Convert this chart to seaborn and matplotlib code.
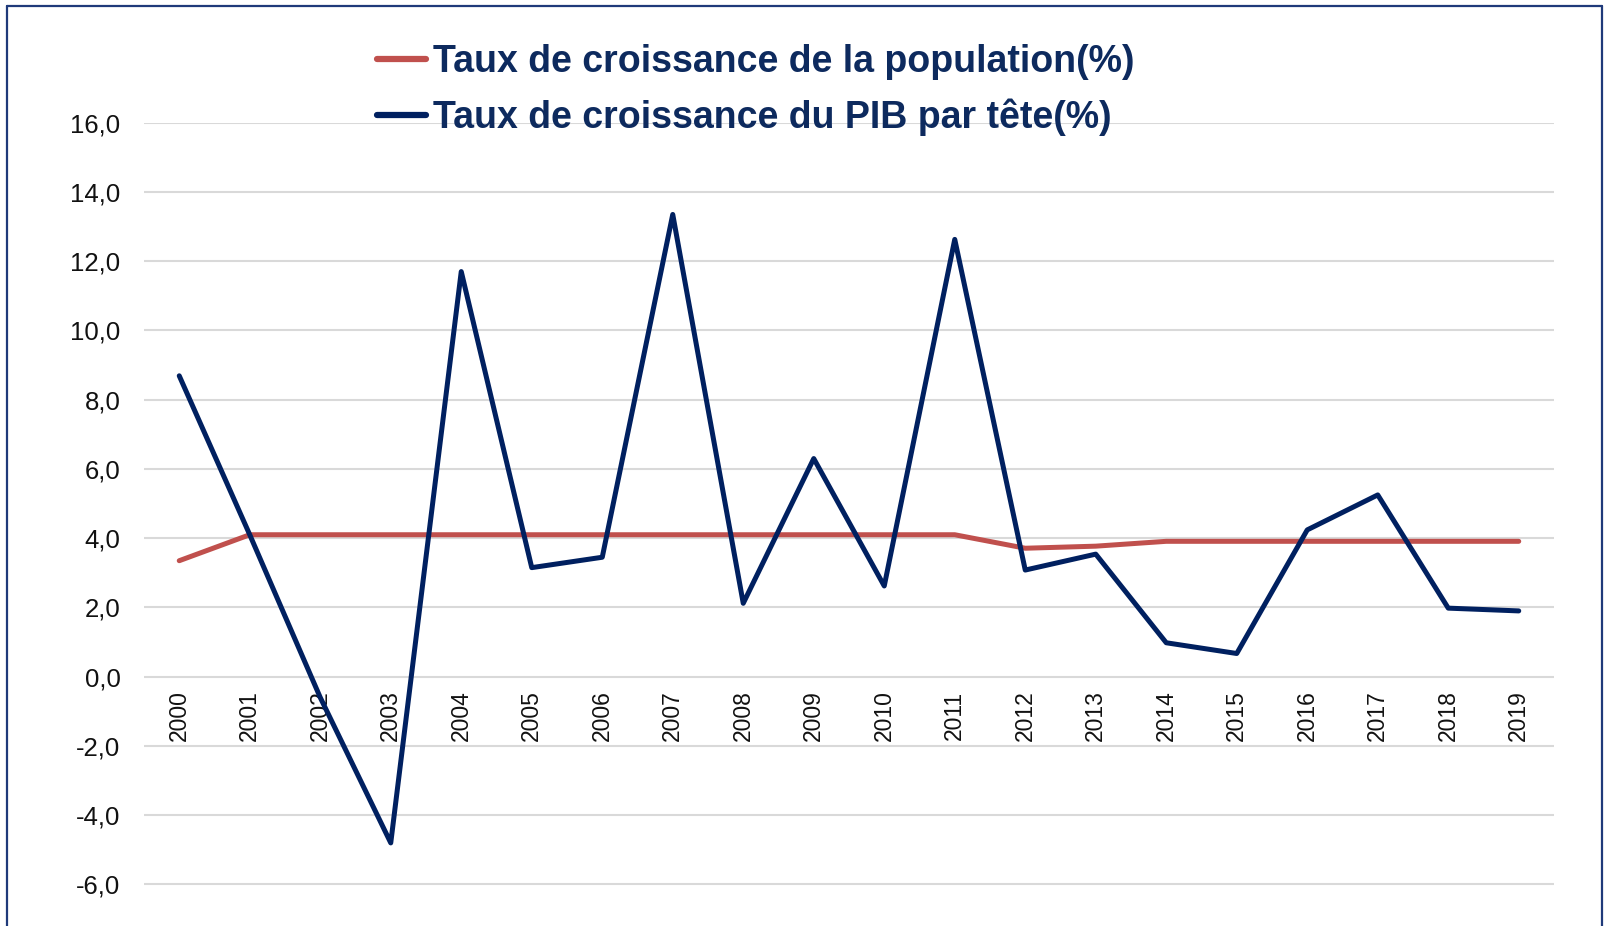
import numpy as np
import pandas as pd
import seaborn as sns
import matplotlib.pyplot as plt
from matplotlib.lines import Line2D
from matplotlib.ticker import FuncFormatter

# data
years = [str(y) for y in range(2000, 2020)]
pop_growth = [3.35, 4.1, 4.1, 4.1, 4.1, 4.1, 4.1, 4.1, 4.1, 4.1,
              4.1, 4.1, 3.71, 3.77, 3.91, 3.91, 3.91, 3.91, 3.91, 3.91]
pib_growth = [8.69, 4.1, -0.6, -4.8, 11.7, 3.15, 3.45, 13.35, 2.12, 6.3,
              2.62, 12.63, 3.08, 3.54, 0.98, 0.67, 4.24, 5.25, 1.98, 1.9]
labels = ["Taux de croissance de la population(%)",
          "Taux de croissance du PIB par tête(%)"]
colors = ["#C0504D", "#002060"]

df = pd.DataFrame({
    "pos": list(range(len(years))) * 2,
    "val": pop_growth + pib_growth,
    "serie": [labels[0]] * len(years) + [labels[1]] * len(years),
})

sns.set_style("white")
plt.rcParams['font.family'] = ['Liberation Sans', 'DejaVu Sans']

fig = plt.figure(figsize=(16.04, 9.26), dpi=100)
ax = fig.add_axes([144 / 1604, 0, 1410 / 1604, 803.3 / 926])

sns.lineplot(data=df, x="pos", y="val", hue="serie", palette=colors,
             linewidth=3.6, ax=ax, legend=False, sort=False,
             solid_capstyle="round", solid_joinstyle="round")

# x labels sit on the zero line
ax.spines['bottom'].set_position(('data', 0))
for s in ax.spines.values():
    s.set_visible(False)

ax.set_xlim(-0.5, len(years) - 0.5)
ax.set_ylim(-7.2, 16)
ax.set_yticks(np.arange(-6, 17, 2))
ax.yaxis.set_major_formatter(FuncFormatter(lambda v, p: f"{v:.1f}".replace(".", ",")))
ax.set_xticks(range(len(years)))
ax.set_xticklabels(years)
ax.tick_params(axis='x', length=0, pad=10, labelsize=16.5, labelcolor="#111111", labelrotation=90)
ax.tick_params(axis='y', length=0, pad=17, labelsize=18.5, labelcolor="#111111")
ax.yaxis.grid(True, color="#D9D9D9", linewidth=1.5)
ax.xaxis.grid(False)
ax.set_axisbelow(True)
ax.set_xlabel("")
ax.set_ylabel("")

handles = [Line2D([], [], color=c, linewidth=4.5, solid_capstyle="round") for c in colors]
leg = fig.legend(handles, labels, loc="upper left", bbox_to_anchor=(358 / 1604, 1 - 25 / 926),
                 frameon=False, handlelength=1.3, handletextpad=0.2, labelspacing=0.5,
                 borderpad=0, prop={"family": "Liberation Sans", "weight": "bold", "size": 27})
for t in leg.get_texts():
    t.set_color("#0D2A5E")

# chart frame (bottom edge lies outside the picture)
frame_col = "#1F3A7A"
fig.add_artist(Line2D([7 / 1604, 7 / 1604], [0, 1 - 6 / 926], color=frame_col, lw=1.6))
fig.add_artist(Line2D([7 / 1604, 1601.5 / 1604], [1 - 6 / 926, 1 - 6 / 926], color=frame_col, lw=1.6))
fig.add_artist(Line2D([1601.5 / 1604, 1601.5 / 1604], [0, 1 - 6 / 926], color=frame_col, lw=1.6))

fig.savefig("out.png", dpi=100)
